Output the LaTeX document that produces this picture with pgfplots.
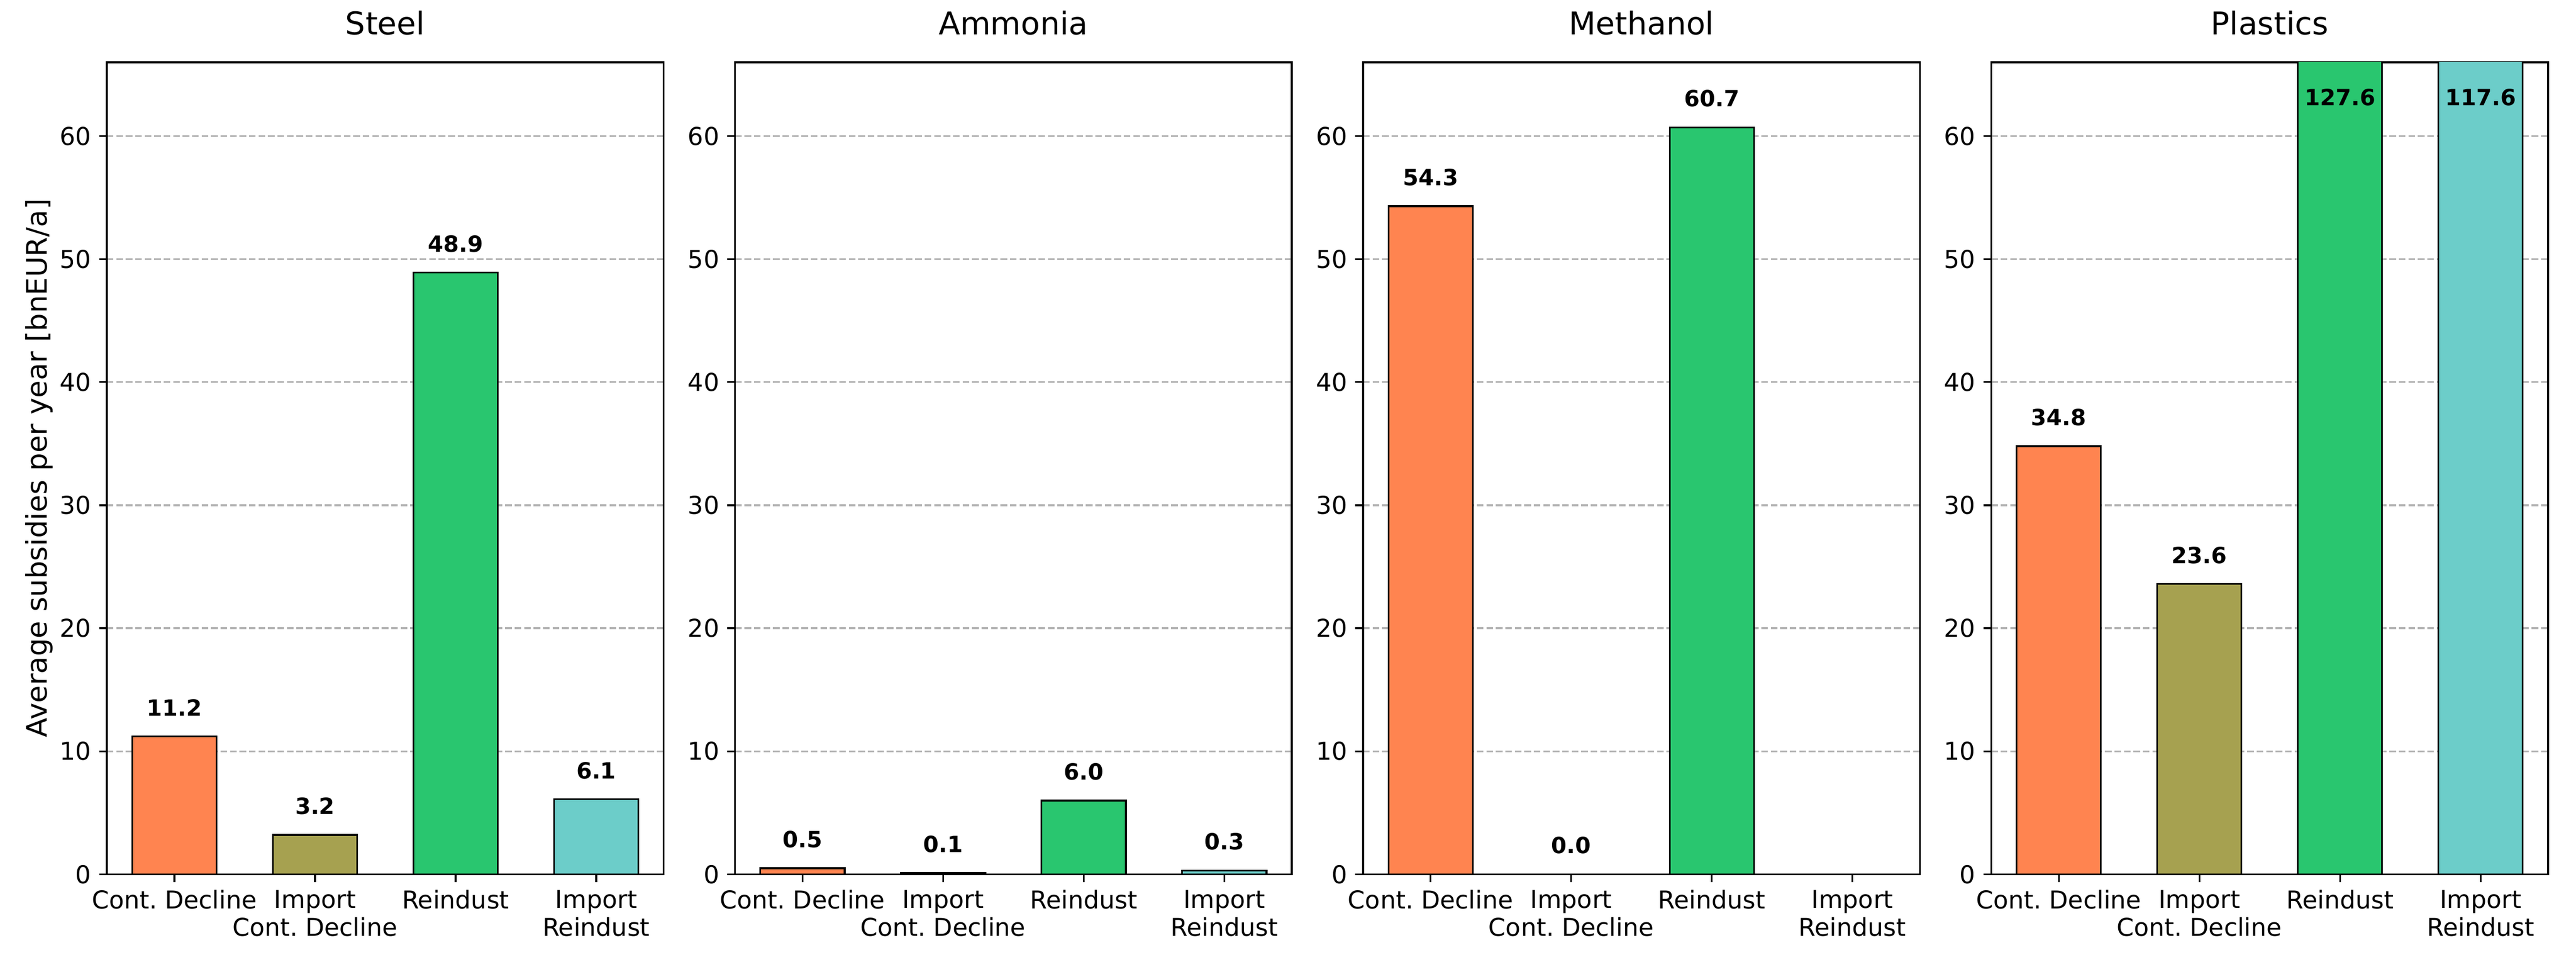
\documentclass[border=0pt]{standalone}
\usepackage{fontspec}
\setmainfont{DejaVu Sans}
\usepackage{pgfplots}
\pgfplotsset{compat=1.18}

\definecolor{cdecl}{HTML}{FF8450}
\definecolor{icdecl}{HTML}{A6A150}
\definecolor{reind}{HTML}{29C66F}
\definecolor{ireind}{HTML}{6CCDC9}

\pgfplotsset{
  panel/.style={
    scale only axis, width=249pt, height=363pt,
    xmin=-0.48, xmax=3.48, ymin=0, ymax=66,
    ybar, bar width=0.6, bar shift=0pt,
    xtick={0,1,2,3},
    xticklabels={Cont. Decline,{Import\\Cont. Decline},Reindust,{Import\\Reindust}},
    xticklabel style={align=center, font=\fontsize{11}{12.5}\selectfont},
    ytick={0,10,...,60},
    yticklabel style={font=\fontsize{11}{13}\selectfont},
    /pgf/number format/assume math mode=true,
    tick align=outside, tick pos=left,
    major tick length=3.5pt,
    every tick/.style={black, line width=0.8pt},
    axis line style={line width=0.8pt},
    ymajorgrids,
    grid style={gray!60, line width=0.8pt, dash pattern=on 2.96pt off 1.28pt},
    title style={font=\fontsize{14}{17}\selectfont, at={(0.5,1)}, anchor=south, inner sep=0pt, yshift=6pt},
    every axis plot/.append style={draw=black, line width=0.8pt},
    nodes near coords={\pgfmathprintnumber[fixed,fixed zerofill,precision=1]{\pgfplotspointmeta}},
    every node near coord/.append style={font=\bfseries\fontsize{10}{12}\selectfont, anchor=south, inner sep=0pt, yshift=8.7pt, black},
  },
  % labels of the two bars that run past the top, kept inside the axis
  cliplabel/.style={draw=none, fill=none, nodes near coords, point meta=explicit symbolic},
}

\begin{document}
\frenchspacing
\begin{tikzpicture}
\path[use as bounding box] (0,0) rectangle (1152pt,432pt);

% Steel
\begin{axis}[panel, at={(47.8pt,41.2pt)}, anchor=south west, title={Steel},
  ylabel={Average subsidies per year [bnEUR/a]},
  every axis y label/.style={at={(rel axis cs:0,0.5)}, xshift=-26.8pt, rotate=90, anchor=base, font=\fontsize{12.7}{15}\selectfont}]
\addplot[fill=cdecl] coordinates {(0,11.2)};
\addplot[fill=icdecl] coordinates {(1,3.2)};
\addplot[fill=reind] coordinates {(2,48.9)};
\addplot[fill=ireind] coordinates {(3,6.1)};
\end{axis}

% Ammonia
\begin{axis}[panel, at={(328.7pt,41.2pt)}, anchor=south west, title={Ammonia}]
\addplot[fill=cdecl] coordinates {(0,0.5)};
\addplot[fill=icdecl] coordinates {(1,0.1)};
\addplot[fill=reind] coordinates {(2,6.0)};
\addplot[fill=ireind] coordinates {(3,0.3)};
\end{axis}

% Methanol
\begin{axis}[panel, at={(609.6pt,41.2pt)}, anchor=south west, title={Methanol}]
\addplot[fill=cdecl] coordinates {(0,54.3)};
\addplot[fill=icdecl] coordinates {(1,0.0)};
\addplot[fill=reind] coordinates {(2,60.7)};
\end{axis}

% Plastics
\begin{axis}[panel, at={(890.5pt,41.2pt)}, anchor=south west, title={Plastics}]
\addplot[fill=cdecl] coordinates {(0,34.8)};
\addplot[fill=icdecl] coordinates {(1,23.6)};
\addplot[fill=reind, nodes near coords={}] coordinates {(2,127.6)};
\addplot[fill=ireind, nodes near coords={}] coordinates {(3,117.6)};
\addplot[cliplabel] coordinates {(2,60.8) [127.6] (3,60.8) [117.6]};
\end{axis}
\end{tikzpicture}
\end{document}
